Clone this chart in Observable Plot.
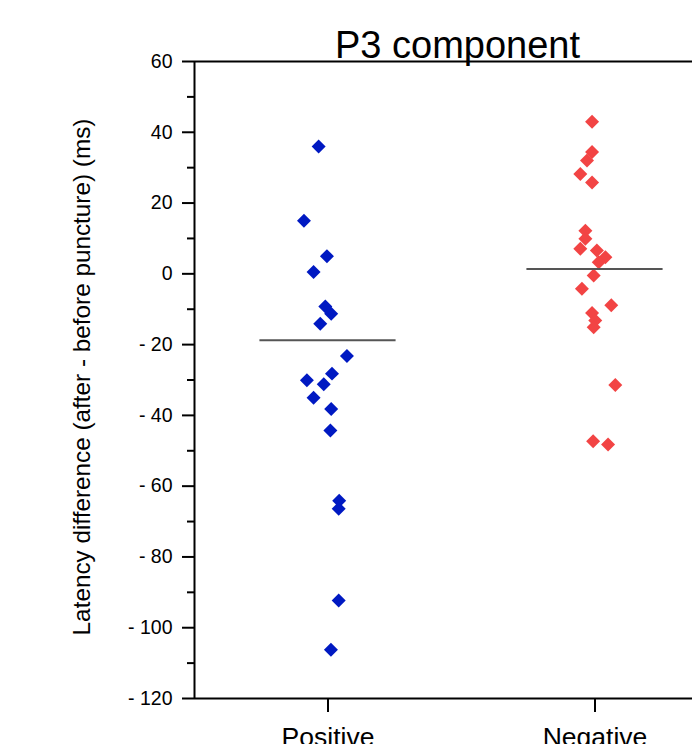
<!DOCTYPE html>
<html><head><meta charset="utf-8">
<script src="https://cdn.jsdelivr.net/npm/d3@7"></script>
<script src="https://cdn.jsdelivr.net/npm/@observablehq/plot@0.6"></script>
<style>body{margin:0;background:#fff} svg{display:block}</style>
</head><body><div id="chart"></div>
<script>
const categories = ["Positive", "Negative"];
const positiveValues = [36, 15, 5, 0.5, -9.2, -11.3, -14.1, -23.2, -28.2, -30.1, -31.2, -35, -38.2, -44.3, -64.1, -66.4, -92.3, -106.2];
const positiveJitter = [-0.035, -0.09, -0.004, -0.054, -0.01, 0.012, -0.029, 0.071, 0.015, -0.079, -0.016, -0.054, 0.012, 0.009, 0.042, 0.04, 0.04, 0.011];
const negativeValues = [43, 34.4, 32, 28.2, 25.8, 12.2, 9.9, 7.1, 6.6, 4.7, 3.3, -0.5, -4.2, -8.9, -11.1, -13.2, -15.1, -31.4, -47.3, -48.2];
const negativeJitter = [-0.011, -0.011, -0.03, -0.055, -0.011, -0.036, -0.036, -0.055, 0.007, 0.039, 0.014, -0.005, -0.049, 0.061, -0.011, 0.001, -0.005, 0.076, -0.007, 0.049];
const meanValues = [-18.8, 1.4];
const colors = ["#0019c2", "#f24444"];
const yTicks = d3.range(-120, 61, 20);
const yMinorTicks = d3.range(-110, 60, 20);
const title = "P3 component";
const yLabel = "Latency difference (after - before puncture) (ms)";

const points = [
  ...positiveValues.map((v, i) => ({group: categories[0], x: 1 + positiveJitter[i], value: v})),
  ...negativeValues.map((v, i) => ({group: categories[1], x: 2 + negativeJitter[i], value: v}))
];
const means = categories.map((c, i) => ({group: c, pos: i + 1, value: meanValues[i]}));
const half = 0.255;

const chart = Plot.plot({
  width: 692, height: 744,
  marginTop: 61, marginBottom: 46, marginLeft: 194, marginRight: 0,
  style: {fontFamily: "'Liberation Sans', Arial, sans-serif", background: "#fff", color: "#000"},
  x: {type: "linear", domain: [0.5, 2.5], range: [194, 728]},
  y: {domain: [-120, 60]},
  color: {domain: categories, range: colors},
  marks: [
    Plot.axisY(yMinorTicks, {tickSize: 7, tickFormat: () => "", label: null, strokeWidth: 2}),
    Plot.axisY(yTicks, {tickSize: 12, tickPadding: 10, fontSize: 19.5, label: null, strokeWidth: 2,
      tickFormat: d => d < 0 ? "- " + (-d) : String(d)}),
    Plot.axisX([1, 2], {tickSize: 14, tickPadding: 15, fontSize: 26.5, label: null, strokeWidth: 2,
      tickFormat: d => categories[d - 1]}),
    Plot.ruleX([0.5], {stroke: "#000", strokeWidth: 2}),
    Plot.ruleY([-120], {stroke: "#000", strokeWidth: 2}),
    Plot.ruleY([60], {stroke: "#000", strokeWidth: 2}),
    Plot.dot(points, {x: "x", y: "value", fill: "group", symbol: "diamond2", r: 6.3}),
    Plot.ruleY(means, {x1: d => d.pos - half, x2: d => d.pos + half, y: "value", stroke: "#555", strokeWidth: 2}),
    Plot.text([title], {x: () => 1.485, frameAnchor: "top", lineAnchor: "bottom", dy: -4, fontSize: 38, fill: "#000"}),
    Plot.text([yLabel], {frameAnchor: "left", textAnchor: "middle", rotate: -90, dx: -112, dy: -3, fontSize: 24.3, fill: "#000"})
  ]
});
document.getElementById("chart").appendChild(chart);
</script>
</body></html>
